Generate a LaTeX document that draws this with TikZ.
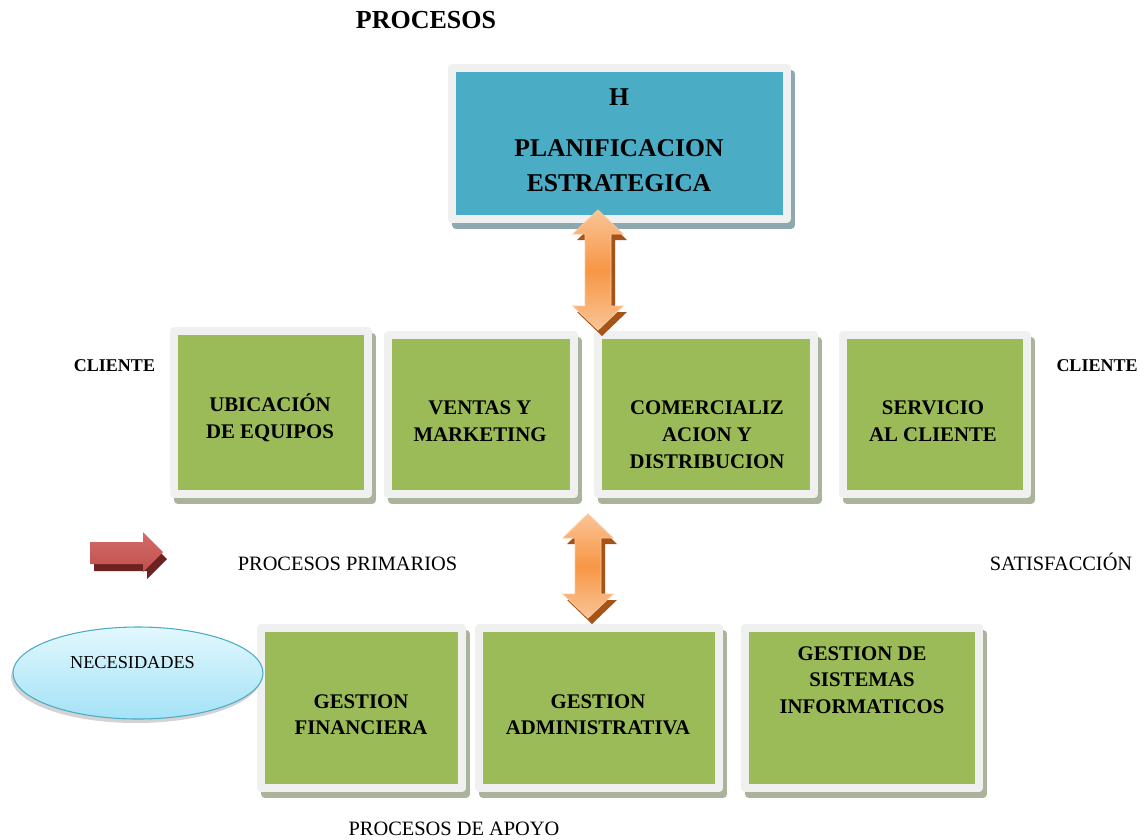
\documentclass[tikz,border=0pt]{standalone}
\usepackage{fontspec}
\setmainfont{Liberation Serif}
\usetikzlibrary{shapes.geometric,shadows}
\definecolor{boxgreen}{HTML}{9BBB59}
\definecolor{boxblue}{HTML}{4BACC6}
\definecolor{framegray}{HTML}{F0F0F0}
\definecolor{greenshadow}{HTML}{A9B49A}
\definecolor{blueshadow}{HTML}{8DA8AF}
\definecolor{orangemid}{HTML}{F79646}
\definecolor{orangelight}{HTML}{FAC495}
\definecolor{orangeedge}{HTML}{FBC89C}
\definecolor{orangeshadow}{HTML}{A65318}
\definecolor{redface}{HTML}{C0504D}
\definecolor{redtop}{HTML}{D36C69}
\definecolor{redshadow}{HTML}{6B2221}
\definecolor{cyantop}{HTML}{E2F8FE}
\definecolor{cyanbot}{HTML}{A4E2F6}
\definecolor{cyanedge}{HTML}{4BACC6}
\newcommand\dblpath[3]{({#1},{#2}) -- ({#1+25},{#2+24}) -- ({#1+13},{#2+24}) -- ({#1+13},{#3-24}) -- ({#1+25},{#3-24}) -- ({#1},{#3}) -- ({#1-25},{#3-24}) -- ({#1-13},{#3-24}) -- ({#1-13},{#2+24}) -- ({#1-25},{#2+24}) -- cycle}
\newcommand\redpath[2]{({#1},{#2+10}) -- ({#1+53},{#2+10}) -- ({#1+53},{#2}) -- ({#1+73},{#2+20}) -- ({#1+53},{#2+40}) -- ({#1+53},{#2+32}) -- ({#1},{#2+32}) -- cycle}
\begin{document}
\begin{tikzpicture}[x=0.75pt,y=-0.75pt,
  framebox/.style={draw=framegray, line width=6pt, line join=round, inner sep=0pt,
    preaction={draw=#1, fill=#1, transform canvas={shift={(3pt,-4.5pt)}}}},
  greenbox/.style={framebox=greenshadow, fill=boxgreen},
  bluebox/.style={framebox=blueshadow, fill=boxblue},
  boxtxt/.style={font=\fontsize{15.6pt}{20.25pt}\selectfont\bfseries, align=center, inner sep=0pt},
  lowtxt/.style={font=\fontsize{15.6pt}{19.75pt}\selectfont\bfseries, align=center, inner sep=0pt},
  plaintxt/.style={font=\fontsize{15.3pt}{18pt}\selectfont, inner sep=0pt, anchor=base},
  clienttxt/.style={font=\fontsize{13.5pt}{16pt}\selectfont\bfseries, inner sep=0pt, anchor=base},
  oshadow/.style={fill=orangeshadow},
  oface/.style={top color=orangelight, bottom color=orangelight, middle color=orangemid, draw=orangeedge, line width=0.7pt, line join=miter}
]
\useasboundingbox (0,0) rectangle (1145,839);

% title
\node[font=\fontsize{19.5pt}{22pt}\selectfont\bfseries, inner sep=0pt, anchor=base] (titulo) at (426,28) {PROCESOS};

% top box
\node[bluebox, minimum width=251.25pt, minimum height=113.25pt] (plan) at (619.5,143.5) {};
\node[font=\fontsize{19.2pt}{26.25pt}\selectfont\bfseries, align=center, inner sep=0pt] (plantxt) at (619,140) {H\\[12pt]PLANIFICACION\\ESTRATEGICA};

% primary process boxes
\node[greenbox, minimum width=145.5pt, minimum height=122.25pt] (ubic) at (271,412.5) {};
\node[greenbox, minimum width=139.5pt, minimum height=119.25pt] (ventas) at (481,414.5) {};
\node[greenbox, minimum width=162pt, minimum height=119.25pt] (comer) at (706,414.5) {};
\node[greenbox, minimum width=138pt, minimum height=119.25pt] (servicio) at (935,414.5) {};
\node[boxtxt] (ubictxt) at (270,418) {UBICACIÓN\\DE EQUIPOS};
\node[boxtxt] (ventastxt) at (480,421.5) {VENTAS Y\\MARKETING};
\node[boxtxt] (comertxt) at (707,434.5) {COMERCIALIZ\\ACION Y\\DISTRIBUCION};
\node[boxtxt] (serviciotxt) at (933,421.5) {SERVICIO\\AL CLIENTE};

% support process boxes
\node[greenbox, minimum width=150.75pt, minimum height=120pt] (finan) at (361.5,708) {};
\node[greenbox, minimum width=180pt, minimum height=120pt] (admin) at (599,708) {};
\node[greenbox, minimum width=175.5pt, minimum height=120pt] (sist) at (862,708) {};
\node[lowtxt] (finantxt) at (361,715) {GESTION\\FINANCIERA};
\node[lowtxt] (admintxt) at (598,715) {GESTION\\ADMINISTRATIVA};
\node[lowtxt] (sisttxt) at (862,680) {GESTION DE\\SISTEMAS\\INFORMATICOS};

% side labels
\node[clienttxt] (cliente1) at (114.5,371) {CLIENTE};
\node[clienttxt] (cliente2) at (1097,371) {CLIENTE};
\node[plaintxt] (primarios) at (347.5,570) {PROCESOS PRIMARIOS};
\node[plaintxt] (satisf) at (1061,570) {SATISFACCIÓN};
\node[plaintxt] (apoyo) at (454,835) {PROCESOS DE APOYO};

% necesidades ellipse
\node[ellipse, minimum width=187.5pt, minimum height=69pt, inner sep=0pt,
  top color=cyantop, bottom color=cyanbot, draw=cyanedge, line width=0.8pt,
  drop shadow={shadow xshift=-1.5pt, shadow yshift=-3pt, opacity=0.35}] (necesidades) at (138,673) {};
\node[font=\fontsize{13.7pt}{16pt}\selectfont, inner sep=0pt, anchor=base] (nectxt) at (132.5,668) {NECESIDADES};

% red arrow
\coordinate (redarrow) at (90,532);
\fill[redshadow] \redpath{94}{539};
\shade[top color=redtop, bottom color=redface] \redpath{90}{532};

% orange double arrows
\coordinate (arrowup) at (598,270);
\coordinate (arrowdown) at (588,566);
\fill[oshadow] \dblpath{602}{216}{336};
\shade[oface] \dblpath{598}{210}{330};
\fill[oshadow] \dblpath{592}{520}{624};
\shade[oface] \dblpath{588}{514}{618};
\end{tikzpicture}
\end{document}
